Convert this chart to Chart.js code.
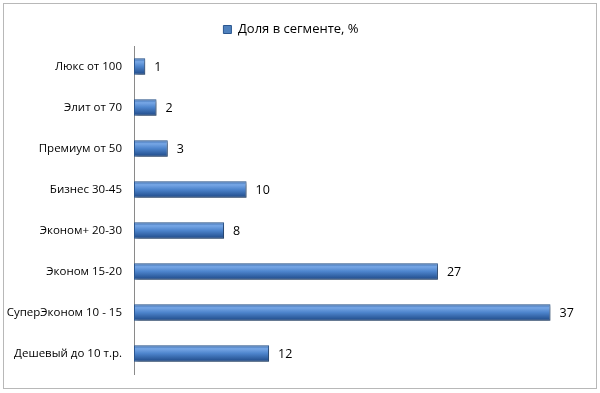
<!DOCTYPE html>
<html><head><meta charset="utf-8">
<script src="https://cdn.jsdelivr.net/npm/chart.js@4/dist/chart.umd.min.js"></script>
<style>html,body{margin:0;padding:0;background:#fff}#wrap{width:600px;height:393px;position:relative}</style>
</head><body><div id="wrap"><canvas id="c" width="600" height="393"></canvas></div>
<script>
const categories = ["Люкс от 100","Элит от 70","Премиум от 50","Бизнес 30-45","Эконом+ 20-30","Эконом 15-20","СуперЭконом 10 - 15","Дешевый до 10 т.р."];
const shares = [1,2,3,10,8,27,37,12];
const seriesName = "Доля в сегменте, %";
const FONT = "'Open Sans', sans-serif";

function barGradient(ctx, y0, y1){
  const g = ctx.createLinearGradient(0, y0, 0, y1);
  g.addColorStop(0, '#3a6cae');
  g.addColorStop(0.2, '#77a7e6');
  g.addColorStop(0.5, '#4d84cc');
  g.addColorStop(1, '#1f4a88');
  return g;
}

const borderPlugin = {
  id:'frame',
  beforeDraw(chart){
    const c = chart.ctx;
    c.save();
    c.fillStyle='#fff'; c.fillRect(0,0,chart.width,chart.height);
    c.strokeStyle='#b8b8b8'; c.lineWidth=1;
    c.strokeRect(3.5,3.5,chart.width-7,chart.height-8);
    c.restore();
  }
};
const shadowPlugin = {
  id:'shadow',
  beforeDatasetDraw(chart){
    const c = chart.ctx; c.save();
    c.shadowColor='rgba(0,0,0,0.35)'; c.shadowBlur=3; c.shadowOffsetX=2; c.shadowOffsetY=2;
  },
  afterDatasetDraw(chart){ chart.ctx.restore(); }
};
const labelPlugin = {
  id:'vals',
  afterDatasetsDraw(chart){
    const c = chart.ctx; const meta = chart.getDatasetMeta(0);
    c.save(); c.fillStyle='#000'; c.font = "12.5px " + FONT; c.textBaseline='middle'; c.textAlign='left';
    meta.data.forEach((bar,i)=>{ c.fillText(String(chart.data.datasets[0].data[i]), bar.x + 9, bar.y + 1); });
    c.restore();
  }
};

new Chart(document.getElementById('c'), {
  type:'bar',
  data:{ labels:categories, datasets:[{
    label:seriesName, data:shares,
    backgroundColor(ctx){
      const chart = ctx.chart;
      if (!chart.chartArea || ctx.type!=='data') return '#4f81bd';
      const y = chart.scales.y.getPixelForValue(ctx.dataIndex);
      return barGradient(chart.ctx, y-8, y+8);
    },
    borderColor:'#2a568f', borderWidth:1, borderSkipped:false,
    barPercentage:0.4, categoryPercentage:1
  }]},
  options:{
    indexAxis:'y', responsive:false, animation:false,
    layout:{padding:{top:8,right:18,bottom:19,left:0}},
    plugins:{
      legend:{display:true, position:'top', labels:{
        font:{family:FONT,size:13}, color:'#000', boxWidth:8, boxHeight:8, padding:15,
        generateLabels(chart){ return [{text:seriesName, fillStyle:'#4f81bd', strokeStyle:'#2a568f', lineWidth:1, datasetIndex:0}]; }
      }},
      tooltip:{enabled:false}
    },
    scales:{
      x:{display:false, min:0, max:39.8},
      y:{
        grid:{display:false, drawTicks:false},
        border:{display:true, color:'#8a8a8a', width:1},
        ticks:{font:{family:FONT,size:11.5}, color:'#000', padding:12},
        afterFit(s){ s.width = 134; }
      }
    }
  },
  plugins:[borderPlugin, shadowPlugin, labelPlugin]
});
</script></body></html>
